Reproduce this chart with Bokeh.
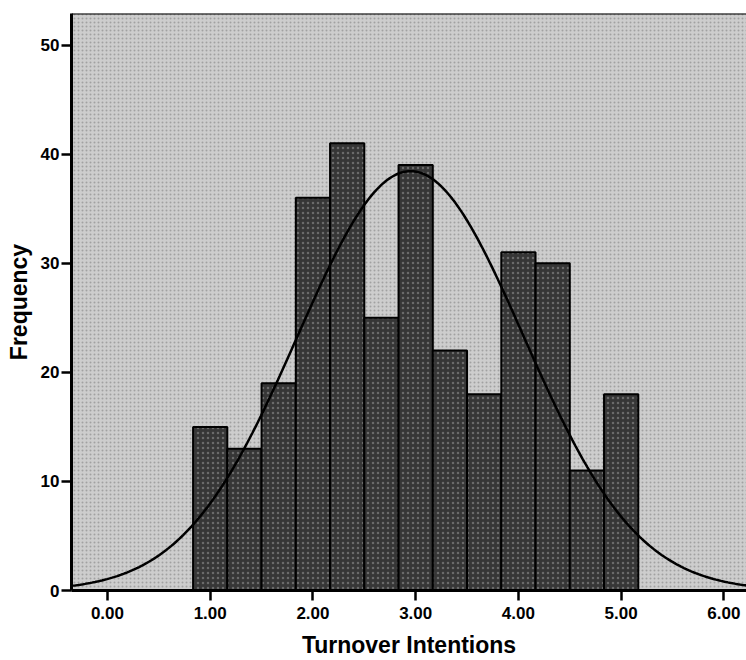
from bokeh.plotting import figure
from bokeh.models import Range1d, FixedTicker, PrintfTickFormatter, Span
from bokeh.embed import file_html
from bokeh.resources import INLINE
import numpy as np

# Histogram data
bin_width = 1.0 / 3.0
bin_centers = [1.0, 4/3, 5/3, 2.0, 7/3, 8/3, 3.0, 10/3, 11/3, 4.0, 13/3, 14/3, 5.0]
counts = [15, 13, 19, 36, 41, 25, 39, 22, 18, 31, 30, 11, 18]

# Fitted normal curve parameters
curve_mean = 2.95
curve_sd = 1.10
n_total = sum(counts)

x_ticks = [0, 1, 2, 3, 4, 5, 6]
y_ticks = [0, 10, 20, 30, 40, 50]

X_START, X_END = -0.35, 6.22
Y_START, Y_END = 0, 52.9

FONT = "Liberation Sans"

p = figure(width=746, height=660, output_backend="svg", toolbar_location=None,
           x_range=Range1d(X_START, X_END), y_range=Range1d(Y_START, Y_END),
           min_border_left=71, min_border_right=0, min_border_top=13, min_border_bottom=70)

p.background_fill_color = "#d2d2d2"
p.border_fill_color = "white"
p.outline_line_color = None
p.grid.visible = False

# speckled background texture
p.quad(left=[X_START], right=[X_END], bottom=[Y_START], top=[Y_END],
       fill_color="#cdcdcd", line_color=None,
       hatch_pattern="dot", hatch_color="#6a6a6a", hatch_scale=4, hatch_alpha=0.45, hatch_weight=1)

lefts = [c - bin_width / 2 for c in bin_centers]
rights = [c + bin_width / 2 for c in bin_centers]
p.quad(left=lefts, right=rights, bottom=0, top=counts,
       fill_color="#363636", line_color="black", line_width=2,
       hatch_pattern="dot", hatch_color="#8c8c8c", hatch_scale=5, hatch_alpha=0.6, hatch_weight=1)

xs = np.linspace(X_START, X_END, 400)
ys = n_total * bin_width / (curve_sd * np.sqrt(2 * np.pi)) * np.exp(-0.5 * ((xs - curve_mean) / curve_sd) ** 2)
p.line(xs, ys, line_color="black", line_width=2.5)

p.add_layout(Span(location=Y_END, dimension="width", line_color="black", line_width=2))

p.xaxis.ticker = FixedTicker(ticks=x_ticks)
p.xaxis.formatter = PrintfTickFormatter(format="%.2f")
p.yaxis.ticker = FixedTicker(ticks=y_ticks)
p.xaxis.axis_label = "Turnover Intentions"
p.yaxis.axis_label = "Frequency"

for ax in (p.xaxis, p.yaxis):
    ax.axis_line_color = "black"
    ax.axis_line_width = 3
    ax.major_tick_line_color = "black"
    ax.major_tick_line_width = 2.5
    ax.major_tick_out = 10
    ax.major_tick_in = 0
    ax.minor_tick_out = 0
    ax.minor_tick_in = 0
    ax.major_label_text_font = FONT
    ax.major_label_text_font_style = "bold"
    ax.major_label_text_font_size = "17px"
    ax.major_label_text_color = "black"
    ax.axis_label_text_font = FONT
    ax.axis_label_text_font_style = "bold"
    ax.axis_label_text_font_size = "23px"
    ax.axis_label_text_color = "black"

p.xaxis.major_label_standoff = 6
p.yaxis.major_label_standoff = 2
p.xaxis.axis_label_standoff = 10
p.yaxis.axis_label_standoff = 6

open("out.html", "w").write(file_html(p, INLINE))
